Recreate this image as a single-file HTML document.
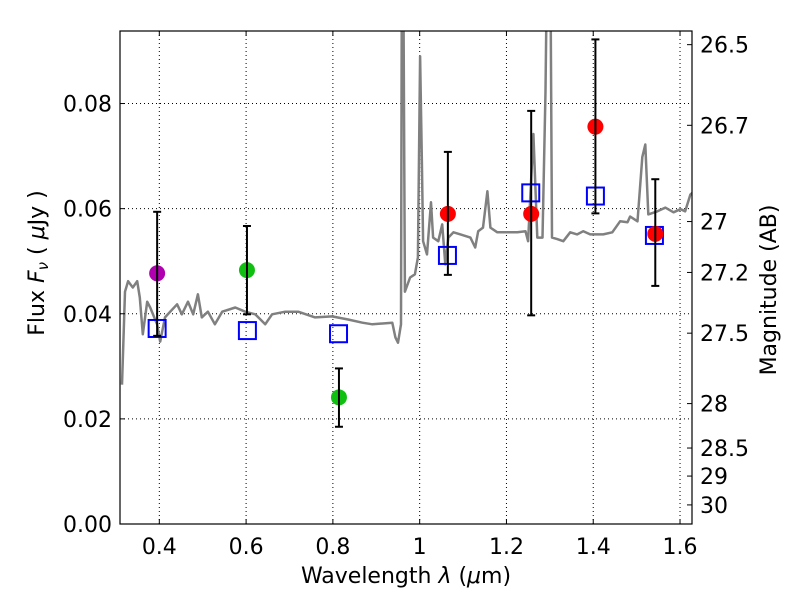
<!DOCTYPE html>
<html><head><meta charset="utf-8"><style>
html,body{margin:0;padding:0;background:#fff;}
svg{display:block;font-family:"DejaVu Sans","Liberation Sans",sans-serif;}
</style></head><body>
<svg id="chart" width="800" height="600" viewBox="0 0 800 600" xmlns="http://www.w3.org/2000/svg"></svg>
<script>
const specLam=[0.314,0.321,0.328,0.339,0.349,0.355,0.362,0.372,0.379,0.395,0.402,0.413,0.425,0.441,0.452,0.466,0.478,0.489,0.498,0.512,0.528,0.545,0.575,0.598,0.621,0.644,0.660,0.690,0.720,0.759,0.798,0.835,0.868,0.891,0.937,0.944,0.950,0.957,0.959,0.962,0.966,0.978,0.989,0.996,1.001,1.005,1.008,1.017,1.026,1.031,1.043,1.052,1.059,1.066,1.078,1.094,1.117,1.128,1.135,1.146,1.156,1.163,1.179,1.202,1.225,1.244,1.250,1.262,1.271,1.283,1.290,1.294,1.301,1.305,1.317,1.331,1.347,1.363,1.377,1.393,1.423,1.444,1.462,1.479,1.485,1.502,1.513,1.520,1.527,1.548,1.566,1.585,1.601,1.612,1.624,1.628];
const specFlux=[0.0265,0.0442,0.0462,0.0450,0.0462,0.0431,0.0361,0.0423,0.0412,0.0380,0.0347,0.0393,0.0404,0.0418,0.0399,0.0423,0.0399,0.0437,0.0393,0.0404,0.0380,0.0404,0.0412,0.0404,0.0399,0.0380,0.0399,0.0404,0.0404,0.0393,0.0395,0.0389,0.0383,0.0380,0.0383,0.0355,0.0345,0.0380,0.11,0.11,0.0442,0.0469,0.0475,0.0507,0.0890,0.0698,0.0538,0.0513,0.0612,0.0545,0.0538,0.0570,0.0494,0.0545,0.0555,0.0551,0.0545,0.0526,0.0557,0.0564,0.0633,0.0564,0.0555,0.0555,0.0555,0.0557,0.0538,0.0742,0.0545,0.0545,0.0823,0.11,0.11,0.0545,0.0542,0.0538,0.0555,0.0551,0.0557,0.0551,0.0551,0.0555,0.0576,0.0574,0.0585,0.0576,0.0698,0.0722,0.0589,0.0595,0.0602,0.0593,0.0599,0.0595,0.0627,0.0630];
const obsLam=[0.395,0.602,0.814,1.065,1.257,1.405,1.543];
const obsFlux=[0.0477,0.0483,0.0241,0.0590,0.0590,0.0756,0.0552];
const obsHi=[0.0594,0.0567,0.0296,0.0708,0.0786,0.0922,0.0656];
const obsLo=[0.0358,0.0399,0.0185,0.0474,0.0397,0.0591,0.0453];
const obsColor=["#b000b0","#10c010","#10c010","#ff0000","#ff0000","#ff0000","#ff0000"];
const modLam=[0.395,0.603,0.813,1.064,1.256,1.405,1.541];
const modFlux=[0.0372,0.0368,0.0362,0.0511,0.0630,0.0624,0.0549];
const xTicks=[0.4,0.6,0.8,1.0,1.2,1.4,1.6];
const xTickLabels=["0.4","0.6","0.8","1","1.2","1.4","1.6"];
const yTicks=[0,0.02,0.04,0.06,0.08];
const yTickLabels=["0.00","0.02","0.04","0.06","0.08"];
const magTicks=[26.5,26.7,27,27.2,27.5,28,28.5,29,30];
const magLabels=["26.5","26.7","27","27.2","27.5","28","28.5","29","30"];

const L=120,R=692,T=31,B=524;
const xmin=0.3094,xmax=1.6276,ymin=0,ymax=0.0938;
const X=v=>L+(v-xmin)/(xmax-xmin)*(R-L);
const Y=v=>B-(v-ymin)/(ymax-ymin)*(B-T);
const NS="http://www.w3.org/2000/svg";
const svg=document.getElementById('chart');
function mk(tag,attrs,parent){const e=document.createElementNS(NS,tag);for(const k in attrs)e.setAttribute(k,attrs[k]);(parent||svg).appendChild(e);return e;}

const defs=mk('defs',{});
const cp=mk('clipPath',{id:'clip'},defs);
mk('rect',{x:L,y:T,width:R-L,height:B-T},cp);

const grid=mk('g',{});


xTicks.forEach(t=>{mk('line',{x1:X(t),x2:X(t),y1:T,y2:B,stroke:'#000','stroke-width':1,'stroke-dasharray':'1,3'},grid);});
yTicks.forEach(t=>{mk('line',{x1:L,x2:R,y1:Y(t),y2:Y(t),stroke:'#000','stroke-width':1,'stroke-dasharray':'1,3'},grid);});

const pts=specLam.map((l,i)=>X(l).toFixed(1)+','+Y(specFlux[i]).toFixed(1)).join(' ');
const sp=mk('polyline',{points:pts,fill:'none',stroke:'#808080','stroke-width':2.5,'clip-path':'url(#clip)','stroke-linejoin':'round'});



modLam.forEach((l,i)=>{
  const s=mk('rect',{x:X(l)-8.5,y:Y(modFlux[i])-8.5,width:17,height:17,fill:'none',stroke:'#0000ff','stroke-width':2});
  
  
});

obsLam.forEach((l,i)=>{
  const g=mk('g',{});
  
  
  const x=X(l);
  mk('circle',{cx:x,cy:Y(obsFlux[i]),r:8,fill:obsColor[i]},g);
  mk('line',{x1:x,x2:x,y1:Y(obsHi[i]),y2:Y(obsLo[i]),stroke:'#000','stroke-width':2},g);
  mk('line',{x1:x-4,x2:x+4,y1:Y(obsHi[i]),y2:Y(obsHi[i]),stroke:'#000','stroke-width':2},g);
  mk('line',{x1:x-4,x2:x+4,y1:Y(obsLo[i]),y2:Y(obsLo[i]),stroke:'#000','stroke-width':2},g);
});

const fr=mk('rect',{x:L,y:T,width:R-L,height:B-T,fill:'none',stroke:'#000','stroke-width':1.2});



xTicks.forEach((t,i)=>{
  mk('line',{x1:X(t),x2:X(t),y1:B,y2:B-5,stroke:'#000'});
  mk('line',{x1:X(t),x2:X(t),y1:T,y2:T+5,stroke:'#000'});
  const tx=mk('text',{x:X(t),y:B+30,'font-size':22,'text-anchor':'middle',fill:'#000'});
  tx.textContent=xTickLabels[i];
  
  
});
yTicks.forEach((t,i)=>{
  mk('line',{x1:L,x2:L+5,y1:Y(t),y2:Y(t),stroke:'#000'});
  const tx=mk('text',{x:L-8,y:Y(t)+8,'font-size':22,'text-anchor':'end',fill:'#000'});
  tx.textContent=yTickLabels[i];
  
  
});
magTicks.forEach((m,i)=>{
  const f=Math.pow(10,(23.9-m)/2.5);
  const y=Y(f);
  mk('line',{x1:R-5,x2:R,y1:y,y2:y,stroke:'#000'});
  const tx=mk('text',{x:R+8,y:y+8,'font-size':22,'text-anchor':'start',fill:'#000'});
  tx.textContent=magLabels[i];
  
  
});

const xt=mk('text',{x:406,y:583,'font-size':22,'text-anchor':'middle',fill:'#000'});
xt.innerHTML='Wavelength  <tspan font-style="italic">λ</tspan> (<tspan font-style="italic">μ</tspan>m)';


const yt=mk('text',{x:0,y:0,'font-size':22,'text-anchor':'middle',fill:'#000',transform:'translate(44,263) rotate(-90)'});
yt.innerHTML='Flux  <tspan font-style="italic">F</tspan><tspan font-style="italic" font-size="15" dy="4">ν</tspan><tspan dy="-4">  ( </tspan><tspan font-style="italic">μ</tspan>Jy )';


const rt=mk('text',{x:0,y:0,'font-size':22,'text-anchor':'middle',fill:'#000',transform:'translate(776,290) rotate(-90)'});
rt.textContent='Magnitude (AB)';


</script>
</body></html>
